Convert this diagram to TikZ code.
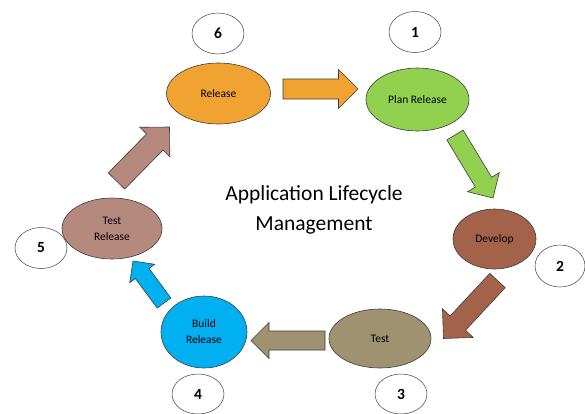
\documentclass[tikz,border=0pt]{standalone}
\usepackage{fontspec}
\setmainfont{Carlito}
\usetikzlibrary{shapes.geometric, calc, positioning}
\definecolor{relorange}{RGB}{241,163,49}
\definecolor{plangreen}{RGB}{146,208,80}
\definecolor{devbrown}{RGB}{163,99,75}
\definecolor{testkhaki}{RGB}{159,146,112}
\definecolor{buildblue}{RGB}{0,176,240}
\definecolor{trelmauve}{RGB}{182,137,127}
\definecolor{edgegray}{RGB}{60,60,60}

% block arrow: from, to, fill, half shaft, half head
\newcommand{\blockarrow}[5]{%
  \coordinate (ba-b) at ($(#2)!#5!(#1)$);
  \filldraw[fill=#3, draw=edgegray, line width=0.6pt, line join=miter]
    ($(#1)!#4!90:(#2)$) -- ($(ba-b)!#4!90:(#2)$) -- ($(ba-b)!#5!90:(#2)$)
    -- (#2) -- ($(ba-b)!#5!-90:(#2)$) -- ($(ba-b)!#4!-90:(#2)$)
    -- ($(#1)!#4!-90:(#2)$) -- cycle;
}

\begin{document}
\begin{tikzpicture}[x=1pt, y=-1pt,
  stage/.style={ellipse, draw=edgegray, line width=0.6pt, inner sep=0pt,
    align=center, font=\fontsize{11.5}{16}\selectfont},
  stepnum/.style={ellipse, draw=black!75, line width=0.5pt, fill=white,
    inner sep=0pt, minimum width=52pt, minimum height=41pt,
    font=\bfseries\fontsize{15.5}{17}\selectfont}]
\useasboundingbox (0,0) rectangle (585,413);

% Step numbers
\node[stepnum] (n6) at (218,33.5) {6};
\node[stepnum] (n1) at (415,32) {1};
\node[stepnum, minimum width=50pt, minimum height=42pt] (n2) at (560,266) {2};
\node[stepnum, minimum height=40pt] (n3) at (401,394) {3};
\node[stepnum, minimum height=40pt] (n4) at (198,394) {4};
\node[stepnum] (n5) at (41,248) {5};

% Stages
\node[stage, fill=relorange, minimum width=104pt, minimum height=61pt]
  (rel) at (218.5,93.5) {Release};
\node[stage, fill=plangreen, minimum width=103pt, minimum height=63pt]
  (plan) at (417.5,99.5) {Plan Release};
\node[stage, fill=devbrown, minimum width=83pt, minimum height=60pt]
  (dev) at (494.5,239) {Develop};
\node[stage, fill=testkhaki, minimum width=102pt, minimum height=59pt]
  (test) at (380,338.5) {Test};
\node[stage, fill=buildblue, minimum width=86pt, minimum height=72pt]
  (build) at (204,332) {Build\\Release};
\node[stage, fill=trelmauve, minimum width=100pt, minimum height=61pt]
  (trel) at (112,228.5) {Test\\Release};

% Title
\node[font=\fontsize{21.5}{30}\selectfont, align=center] (title)
  at (314,210) {Application Lifecycle\\Management};

% Arrow ends
\coordinate (a1s) at (283,89);      \coordinate (a1e) at (358,89);
\coordinate (a2s) at (455,135);     \coordinate (a2e) at (493,198);
\coordinate (a3s) at (497.5,280.5); \coordinate (a3e) at (443.5,338.5);
\coordinate (a4s) at (325,340.5);   \coordinate (a4e) at (251,340.5);
\coordinate (a5s) at (164,303);     \coordinate (a5e) at (133,261);
\coordinate (a6s) at (116.5,181);   \coordinate (a6e) at (169.5,127);

% Block arrows
\blockarrow{a1s}{a1e}{relorange}{10pt}{19.5pt}
\blockarrow{a2s}{a2e}{plangreen}{9.5pt}{18.5pt}
\blockarrow{a3s}{a3e}{devbrown}{10.5pt}{21pt}
\blockarrow{a4s}{a4e}{testkhaki}{9.5pt}{18pt}
\blockarrow{a5s}{a5e}{buildblue}{8.5pt}{15.5pt}
\blockarrow{a6s}{a6e}{trelmauve}{11.5pt}{21pt}
\end{tikzpicture}
\end{document}
